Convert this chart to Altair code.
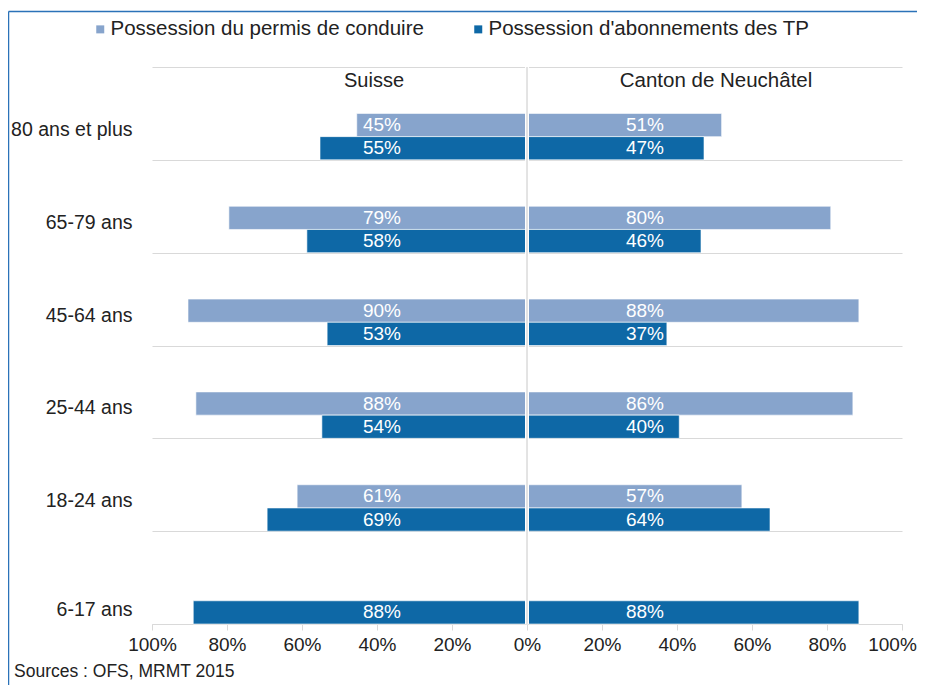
import altair as alt
import pandas as pd

categories = ["80 ans et plus", "65-79 ans", "45-64 ans", "25-44 ans", "18-24 ans", "6-17 ans"]
series = ["Possession du permis de conduire", "Possession d'abonnements des TP"]
regions = ["Suisse", "Canton de Neuchâtel"]

# bar lengths (percent)
suisse_permis = [45.4, 79.5, 90.4, 88.3, 61.3, None]
suisse_abo = [55.2, 58.7, 53.3, 54.7, 69.3, 89.0]
ne_permis = [51.9, 81.0, 88.5, 86.9, 57.3, None]
ne_abo = [47.2, 46.4, 37.3, 40.6, 64.8, 88.5]

# printed labels
suisse_permis_lab = ["45%", "79%", "90%", "88%", "61%", None]
suisse_abo_lab = ["55%", "58%", "53%", "54%", "69%", "88%"]
ne_permis_lab = ["51%", "80%", "88%", "86%", "57%", None]
ne_abo_lab = ["47%", "46%", "37%", "40%", "64%", "88%"]

rows = []
for region, permis, abo, pl, al in [
    (regions[0], suisse_permis, suisse_abo, suisse_permis_lab, suisse_abo_lab),
    (regions[1], ne_permis, ne_abo, ne_permis_lab, ne_abo_lab),
]:
    sign = -1 if region == regions[0] else 1
    for cat, p, a, plab, alab in zip(categories, permis, abo, pl, al):
        for s, v, lab in ((series[0], p, plab), (series[1], a, alab)):
            if v is None:
                continue
            rows.append({"region": region, "category": cat, "series": s,
                         "value": v, "signed": sign * v, "label": lab})
df = pd.DataFrame(rows)

FONT = "Liberation Sans"
TXT = "#222222"
GRID = "#d9d9d9"

y_enc = alt.Y("category:N", sort=categories,
              scale=alt.Scale(domain=categories, paddingInner=0, paddingOuter=0),
              axis=alt.Axis(title=None, tickBand="extent", grid=True, gridColor=GRID,
                            ticks=False, domain=False, labelPadding=20, labelFontSize=19.5,
                            labelColor=TXT, labelFont=FONT,
                            labelOffset={"condition": {"test": "datum.value == '6-17 ans'", "value": 32}, "value": 16}))
yoff_enc = alt.YOffset("series:N",
                       scale=alt.Scale(domain=["_a", "_b", series[0], series[1]], paddingInner=0, paddingOuter=0))
x_enc = alt.X("signed:Q", scale=alt.Scale(domain=[-100, 100], nice=False),
              axis=alt.Axis(values=list(range(-100, 101, 20)), labelExpr="abs(datum.value) + '%'",
                            title=None, grid=False, domainColor=GRID, tickColor=GRID, tickSize=6,
                            labelFlush=False, labelFontSize=19, labelPadding=5, labelColor=TXT,
                            labelFont=FONT,
                            labelOffset={"condition": {"test": "datum.value == 100", "value": -10}, "value": 0}))
color_enc = alt.Color("series:N", scale=alt.Scale(domain=series, range=["#87A4CC", "#0E68A6"]),
                      legend=alt.Legend(title=None, orient="none", legendX=-62, legendY=-48,
                                        direction="horizontal", symbolType="square", symbolSize=64,
                                        symbolStrokeWidth=0, labelFontSize=20.5, labelFont=FONT,
                                        labelColor=TXT, labelOffset=0, columnPadding=44, labelLimit=400))

base = alt.Chart(df)
bars = base.mark_bar(stroke="white", strokeWidth=0.6).encode(x=x_enc, y=y_enc, yOffset=yoff_enc, color=color_enc)

lab_left = base.transform_filter(alt.datum.region == regions[0]).mark_text(
    color="white", fontSize=19, font=FONT, baseline="middle").encode(
    x=alt.value(230), y=alt.Y("category:N", sort=categories), yOffset=alt.YOffset("series:N"), text="label:N")
lab_right = base.transform_filter(alt.datum.region == regions[1]).mark_text(
    color="white", fontSize=19, font=FONT, baseline="middle").encode(
    x=alt.value(493), y=alt.Y("category:N", sort=categories), yOffset=alt.YOffset("series:N"), text="label:N")

one = alt.Chart(pd.DataFrame({"z": [0]}))
gap_rule = one.mark_rule(color="white", strokeWidth=4).encode(x=alt.datum(0))
center_rule = one.mark_rule(color="#c8c8c8", strokeWidth=1).encode(x=alt.datum(0))

head_l = one.mark_text(text=regions[0], fontSize=20, font=FONT, color=TXT).encode(
    x=alt.value(222), y=alt.value(13.5))
head_r = one.mark_text(text=regions[1], fontSize=20.5, font=FONT, color=TXT).encode(
    x=alt.value(564), y=alt.value(13.5))
source = one.mark_text(text="Sources : OFS, MRMT 2015", fontSize=17.5, font=FONT, color=TXT,
                       align="left", baseline="alphabetic").encode(
    x=alt.value(-138), y=alt.value(610))

frame_top = one.mark_rule(color="#2b72b8", strokeWidth=1.5).encode(
    x=alt.value(-143.5), x2=alt.value(775), y=alt.value(-55.5))
frame_left = one.mark_rule(color="#2b72b8", strokeWidth=1.5).encode(
    x=alt.value(-143.5), y=alt.value(-55.5), y2=alt.value(620))

chart = alt.layer(bars, gap_rule, center_rule, lab_left, lab_right, head_l, head_r, source,
                  frame_top, frame_left).properties(
    width=750, height=557,
    autosize=alt.AutoSizeParams(type="none"),
    padding={"left": 144, "top": 59, "right": 15, "bottom": 61},
).configure(font=FONT).configure_view(stroke=None)

chart.save("out.html", embed_options={"renderer": "svg", "actions": False})
